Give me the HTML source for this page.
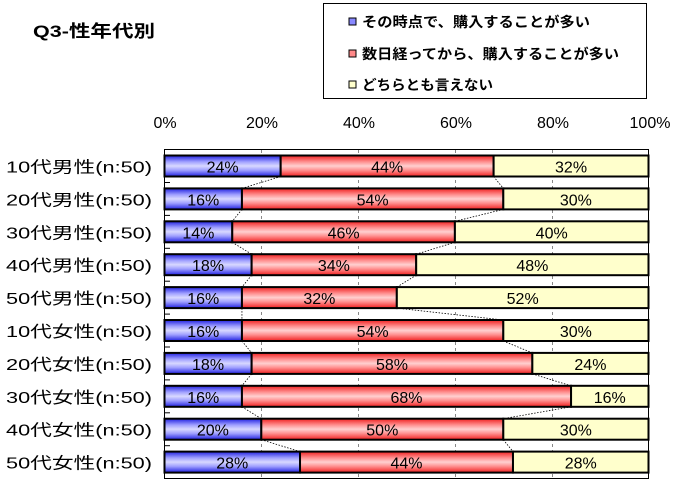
<!DOCTYPE html>
<html><head><meta charset="utf-8"><style>body{margin:0;background:#fff}svg{display:block}text{font-family:"Liberation Sans","Noto Sans CJK JP",sans-serif}</style></head><body>
<svg width="679" height="486" viewBox="0 0 679 486" xmlns="http://www.w3.org/2000/svg">
<defs>
<linearGradient id="gb" x1="0" y1="0" x2="0" y2="1"><stop offset="0" stop-color="#2020e0"/><stop offset="0.3" stop-color="#a0a0ff"/><stop offset="0.5" stop-color="#d8d8ff"/><stop offset="0.7" stop-color="#a0a0ff"/><stop offset="1" stop-color="#2020e0"/></linearGradient>
<linearGradient id="gr" x1="0" y1="0" x2="0" y2="1"><stop offset="0" stop-color="#f02020"/><stop offset="0.3" stop-color="#ff9090"/><stop offset="0.5" stop-color="#ffd0d0"/><stop offset="0.7" stop-color="#ff9090"/><stop offset="1" stop-color="#f02020"/></linearGradient>
</defs>
<text x="33" y="37" font-size="17" font-weight="bold" textLength="122" lengthAdjust="spacingAndGlyphs">Q3-性年代別</text>
<rect x="323.5" y="3.5" width="323" height="95" fill="#fff" stroke="#000"/>
<rect x="349" y="18" width="7" height="7" fill="#8888ff" stroke="#000"/>
<text x="362" y="27" font-size="14" font-weight="bold" textLength="228" lengthAdjust="spacingAndGlyphs">その時点で、購入することが多い</text>
<rect x="349" y="50" width="7" height="7" fill="#ff8888" stroke="#000"/>
<text x="362" y="59" font-size="14" font-weight="bold" textLength="257" lengthAdjust="spacingAndGlyphs">数日経ってから、購入することが多い</text>
<rect x="349" y="81" width="7" height="7" fill="#ffffcc" stroke="#000"/>
<text x="362" y="90" font-size="14" font-weight="bold" textLength="131" lengthAdjust="spacingAndGlyphs">どちらとも言えない</text>
<g font-size="16" text-anchor="middle">
<text x="165" y="128">0%</text><text x="262" y="128">20%</text><text x="359" y="128">40%</text><text x="456" y="128">60%</text><text x="553" y="128">80%</text><text x="650" y="128">100%</text>
</g>
<rect x="164.5" y="149.5" width="484" height="329" fill="#fff" stroke="#000"/>
<g stroke="#888" stroke-dasharray="3,3">
<line x1="261.5" y1="150" x2="261.5" y2="478"/><line x1="358.5" y1="150" x2="358.5" y2="478"/><line x1="455.5" y1="150" x2="455.5" y2="478"/><line x1="552.5" y1="150" x2="552.5" y2="478"/>
</g>
<g id="bars"></g>
</svg>
<script>
var d=[["10代男性",24,44,32],["20代男性",16,54,30],["30代男性",14,46,40],["40代男性",18,34,48],["50代男性",16,32,52],["10代女性",16,54,30],["20代女性",18,58,24],["30代女性",16,68,16],["40代女性",20,50,30],["50代女性",28,44,28]];
var L=164.5,W=484,s="",p=32.9;
for(var i=0;i<d.length;i++){var y=155.5+i*p,h=21,a=d[i][1],b=d[i][2],c=d[i][3];
var x1=L+W*a/100,x2=L+W*(a+b)/100;
if(i<d.length-1){var n=d[i+1];var nx1=L+W*n[1]/100,nx2=L+W*(n[1]+n[2])/100;
s+='<line x1="'+x1+'" y1="'+(y+h)+'" x2="'+nx1+'" y2="'+(y+p)+'" stroke="#000" stroke-width="0.8" stroke-dasharray="1.5,1.5"/>';
s+='<line x1="'+x2+'" y1="'+(y+h)+'" x2="'+nx2+'" y2="'+(y+p)+'" stroke="#000" stroke-width="0.8" stroke-dasharray="1.5,1.5"/>';
s+='<line x1="164.5" y1="'+(y+h+6)+'" x2="170" y2="'+(y+h+6)+'" stroke="#000"/>';}
s+='<rect x="'+L+'" y="'+y+'" width="'+(x1-L)+'" height="'+h+'" fill="url(#gb)" stroke="#000" stroke-width="2"/>';
s+='<rect x="'+x1+'" y="'+y+'" width="'+(x2-x1)+'" height="'+h+'" fill="url(#gr)" stroke="#000" stroke-width="2"/>';
s+='<rect x="'+x2+'" y="'+y+'" width="'+(L+W-x2)+'" height="'+h+'" fill="#ffffcc" stroke="#000" stroke-width="2"/>';
var ty=y+17;
s+='<text x="'+((L+x1)/2)+'" y="'+ty+'" font-size="16" text-anchor="middle">'+a+'%</text>';
s+='<text x="'+((x1+x2)/2)+'" y="'+ty+'" font-size="16" text-anchor="middle">'+b+'%</text>';
s+='<text x="'+((x2+L+W)/2)+'" y="'+ty+'" font-size="16" text-anchor="middle">'+c+'%</text>';
s+='<text x="6" y="'+ty+'" font-size="16" textLength="146" lengthAdjust="spacingAndGlyphs">'+d[i][0]+'(n:50)</text>';}
document.getElementById("bars").innerHTML=s;
</script>
</body></html>
